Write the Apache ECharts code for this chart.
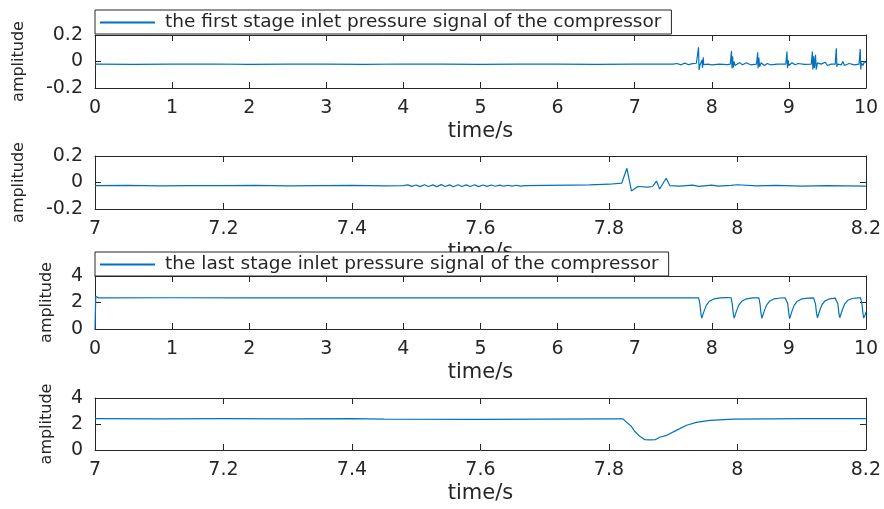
<!DOCTYPE html>
<html>
<head>
<meta charset="utf-8">
<script src="https://cdn.jsdelivr.net/npm/echarts@6/dist/echarts.min.js"></script>
<style>
  html, body { margin: 0; padding: 0; background: #fff; }
  #main { width: 884px; height: 509px; }
</style>
</head>
<body>
<div id="main"></div>
<script>
var chartDom = document.getElementById('main');
var myChart = echarts.init(chartDom);
var option;

// first stage, full record (s, amplitude)
var firstTime = [0, 0.5, 1, 1.5, 2, 2.5, 3, 3.5, 4, 4.5, 5, 5.5, 6, 6.5, 7, 7.5, 7.55, 7.6, 7.65, 7.7, 7.75, 7.8,
  7.82, 7.828, 7.835, 7.845, 7.86, 7.874, 7.879, 7.889, 7.895, 7.95, 8.0, 8.1, 8.2,
  8.24, 8.255, 8.262, 8.27, 8.278, 8.29, 8.30, 8.36, 8.40, 8.45, 8.5,
  8.58, 8.595, 8.60, 8.61, 8.62, 8.64, 8.68, 8.72, 8.76, 8.85,
  8.96, 8.975, 8.982, 8.99, 9.0, 9.04, 9.08, 9.12, 9.2,
  9.29, 9.305, 9.31, 9.32, 9.33, 9.345, 9.355, 9.37, 9.42, 9.47, 9.5, 9.55,
  9.60, 9.615, 9.622, 9.63, 9.68, 9.70, 9.72, 9.78, 9.85,
  9.91, 9.925, 9.932, 9.94, 9.96, 9.98, 10];
var firstValue = [-0.02, -0.021, -0.02, -0.019, -0.021, -0.02, -0.02, -0.021, -0.019, -0.02, -0.021, -0.02, -0.02, -0.021, -0.02, -0.02, -0.015, -0.025, -0.012, -0.024, -0.016, -0.013,
  -0.005, 0.107, -0.064, -0.03, -0.035, 0.011, -0.049, 0.032, -0.024, -0.02, -0.026, -0.02, -0.024,
  -0.02, 0.08, -0.05, 0.04, -0.045, 0.0, -0.03, -0.01, -0.025, -0.01, -0.025,
  -0.02, 0.07, -0.05, 0.03, -0.04, -0.01, -0.03, -0.015, -0.025, -0.02,
  -0.02, 0.075, -0.05, 0.01, -0.03, -0.01, -0.025, -0.015, -0.022,
  -0.02, 0.075, -0.06, 0.04, -0.05, 0.05, -0.06, -0.01, -0.02, -0.005, -0.03, -0.02,
  -0.02, 0.1, -0.04, -0.02, -0.025, 0.0, -0.03, -0.015, -0.025,
  -0.02, 0.095, -0.06, -0.01, -0.03, 0.0, -0.01];

// first stage, 7 s to 8.2 s
var firstZoomTime = [7.0, 7.05, 7.1, 7.15, 7.2, 7.25, 7.3, 7.35, 7.4, 7.45, 7.48,
  7.487, 7.493, 7.5, 7.506, 7.513, 7.519, 7.526, 7.532, 7.539, 7.545, 7.552, 7.558, 7.565, 7.571,
  7.578, 7.584, 7.591, 7.597, 7.604, 7.61, 7.617, 7.623, 7.63, 7.636, 7.643, 7.649, 7.656, 7.662, 7.67,
  7.7, 7.74, 7.77, 7.8, 7.82, 7.828, 7.835, 7.845, 7.86, 7.868, 7.874, 7.879, 7.889, 7.895,
  7.91, 7.93, 7.94, 7.96, 7.97, 7.99, 8.0, 8.03, 8.06, 8.1, 8.14, 8.2];
var firstZoomValue = [-0.024, -0.022, -0.025, -0.023, -0.024, -0.022, -0.025, -0.023, -0.022, -0.025, -0.024,
  -0.018, -0.029, -0.019, -0.031, -0.017, -0.03, -0.018, -0.031, -0.016, -0.03, -0.018, -0.032, -0.017, -0.03,
  -0.018, -0.03, -0.017, -0.031, -0.019, -0.029, -0.019, -0.028, -0.02, -0.028, -0.021, -0.027, -0.021, -0.027, -0.024,
  -0.022, -0.02, -0.018, -0.013, -0.004, 0.107, -0.064, -0.03, -0.035, -0.03, 0.011, -0.049, 0.032, -0.024,
  -0.027, -0.02, -0.029, -0.02, -0.027, -0.022, -0.017, -0.026, -0.022, -0.027, -0.024, -0.027];

// last stage, full record
var lastTime = [0, 0.01, 0.05, 1, 2, 3, 4, 5, 6, 7, 7.5, 7.8,
  7.83, 7.845, 7.858, 7.87, 7.88, 7.90, 7.93, 7.97, 8.03, 8.11, 8.2,
  8.25, 8.265, 8.278, 8.29, 8.30, 8.32, 8.35, 8.39, 8.45, 8.53,
  8.61, 8.625, 8.638, 8.65, 8.66, 8.68, 8.71, 8.75, 8.81, 8.89, 8.95,
  8.97, 8.985, 8.998, 9.01, 9.02, 9.04, 9.07, 9.11, 9.17, 9.25, 9.32,
  9.33, 9.345, 9.358, 9.37, 9.38, 9.40, 9.43, 9.47, 9.53, 9.6,
  9.62, 9.635, 9.648, 9.66, 9.67, 9.69, 9.72, 9.76, 9.82, 9.9, 9.93,
  9.935, 9.95, 9.96, 9.97, 9.98, 9.99, 10];
var lastValue = [0, 2.45, 2.35, 2.36, 2.35, 2.36, 2.35, 2.36, 2.35, 2.36, 2.35, 2.35,
  2.35, 1.9, 1.2, 0.82, 0.85, 1.35, 1.8, 2.1, 2.28, 2.35, 2.37,
  2.36, 1.9, 1.2, 0.82, 0.86, 1.35, 1.8, 2.1, 2.28, 2.35,
  2.35, 1.9, 1.2, 0.8, 0.85, 1.35, 1.8, 2.1, 2.28, 2.34, 2.35,
  2.35, 1.9, 1.2, 0.78, 0.85, 1.35, 1.8, 2.1, 2.28, 2.33, 2.35,
  2.34, 1.9, 1.2, 0.85, 0.9, 1.4, 1.85, 2.12, 2.28, 2.33,
  2.33, 1.9, 1.2, 0.85, 0.9, 1.4, 1.85, 2.15, 2.3, 2.35, 2.35,
  2.3, 1.8, 1.2, 0.82, 0.85, 1.1, 1.3];

// last stage, 7 s to 8.2 s
var lastZoomTime = [7.0, 7.1, 7.2, 7.3, 7.4, 7.45, 7.6, 7.7, 7.8, 7.822, 7.827, 7.835, 7.84, 7.848, 7.856,
  7.864, 7.872, 7.879, 7.89, 7.905, 7.921, 7.936, 7.957, 7.993, 8.05, 8.1, 8.2];
var lastZoomValue = [2.41, 2.4, 2.41, 2.4, 2.41, 2.38, 2.36, 2.38, 2.4, 2.4, 2.15, 1.82, 1.44, 1.05, 0.79,
  0.78, 0.79, 0.98, 1.13, 1.51, 1.9, 2.13, 2.28, 2.38, 2.4, 2.41, 2.42];

var firstName = 'the first stage inlet pressure signal of the compressor';
var lastName = 'the last stage inlet pressure signal of the compressor';

var fullTicks = { min: 0, max: 10, interval: 1 };
var zoomTicks = { min: 7, max: 8.2, interval: 0.2 };
var smallRange = { min: -0.2, max: 0.2, interval: 0.2 };
var bigRange = { min: 0, max: 4, interval: 2 };

var gridTops = [35, 156, 276, 398];
var gridHeights = [53, 53, 53, 52];

function zip(xs, ys) {
  return xs.map(function (x, i) { return [x, ys[i]]; });
}

var ink = '#262626';
var blue = '#0072BD';
var font = 'DejaVu Sans';

function xAxisFor(idx, ticks, mirror) {
  return {
    type: 'value',
    gridIndex: idx,
    position: mirror ? 'top' : 'bottom',
    min: ticks.min,
    max: ticks.max,
    interval: ticks.interval,
    name: mirror ? '' : 'time/s',
    nameLocation: 'middle',
    nameGap: 33,
    nameTextStyle: { color: ink, fontFamily: font, fontSize: 21 },
    axisLine: { show: true, onZero: false, lineStyle: { color: ink, width: 1 } },
    axisTick: { show: true, inside: true, length: 6, lineStyle: { color: ink, width: 1 } },
    axisLabel: {
      show: !mirror,
      color: ink,
      fontFamily: font,
      fontSize: 19,
      margin: 11,
      formatter: function (v) { return String(parseFloat(v.toFixed(1))); }
    },
    splitLine: { show: false }
  };
}

function yAxisFor(idx, range, gap, mirror) {
  return {
    type: 'value',
    gridIndex: idx,
    position: mirror ? 'right' : 'left',
    min: range.min,
    max: range.max,
    interval: range.interval,
    name: mirror ? '' : 'amplitude',
    nameLocation: 'middle',
    nameGap: gap,
    nameTextStyle: { color: ink, fontFamily: font, fontSize: 16 },
    axisLine: { show: true, onZero: false, lineStyle: { color: ink, width: 1 } },
    axisTick: { show: true, inside: true, length: 6, lineStyle: { color: ink, width: 1 } },
    axisLabel: {
      show: !mirror,
      color: ink,
      fontFamily: font,
      fontSize: 19,
      margin: 12,
      formatter: function (v) { return String(parseFloat(v.toFixed(1))); }
    },
    splitLine: { show: false }
  };
}

var xTicks = [fullTicks, zoomTicks, fullTicks, zoomTicks];
var yRanges = [smallRange, smallRange, bigRange, bigRange];
var yGaps = [68, 68, 40, 40];

var grids = gridTops.map(function (top, i) {
  return { left: 95, width: 771, top: top, height: gridHeights[i] };
});

var xAxes = [], yAxes = [];
for (var i = 0; i < 4; i++) {
  xAxes.push(xAxisFor(i, xTicks[i], false));
  yAxes.push(yAxisFor(i, yRanges[i], yGaps[i], false));
}
for (var j = 0; j < 4; j++) {
  xAxes.push(xAxisFor(j, xTicks[j], true));
  yAxes.push(yAxisFor(j, yRanges[j], 0, true));
}

function lineSeries(name, idx, data) {
  return {
    name: name,
    type: 'line',
    xAxisIndex: idx,
    yAxisIndex: idx,
    data: data,
    symbol: 'none',
    showSymbol: false,
    lineStyle: { color: blue, width: 1.2 },
    itemStyle: { color: blue },
    z: 3
  };
}

function legendFor(name, top) {
  return {
    data: [{ name: name, icon: 'rect', itemStyle: { color: blue } }],
    left: 95,
    top: top,
    orient: 'horizontal',
    itemWidth: 55,
    itemHeight: 2,
    padding: [3, 10, 2, 5],
    borderColor: ink,
    borderWidth: 1,
    borderRadius: 0,
    backgroundColor: '#fff',
    selectedMode: false,
    itemStyle: { color: blue },
    textStyle: { color: ink, fontFamily: font, fontSize: 18.5, padding: [0, 0, 0, 5] },
    z: 10
  };
}

option = {
  animation: false,
  backgroundColor: '#fff',
  grid: grids,
  xAxis: xAxes,
  yAxis: yAxes,
  legend: [legendFor(firstName, 10), legendFor(lastName, 252)],
  series: [
    lineSeries(firstName, 0, zip(firstTime, firstValue)),
    lineSeries('first stage 7-8.2 s', 1, zip(firstZoomTime, firstZoomValue)),
    lineSeries(lastName, 2, zip(lastTime, lastValue)),
    lineSeries('last stage 7-8.2 s', 3, zip(lastZoomTime, lastZoomValue))
  ]
};

option && myChart.setOption(option);
</script>
</body>
</html>
